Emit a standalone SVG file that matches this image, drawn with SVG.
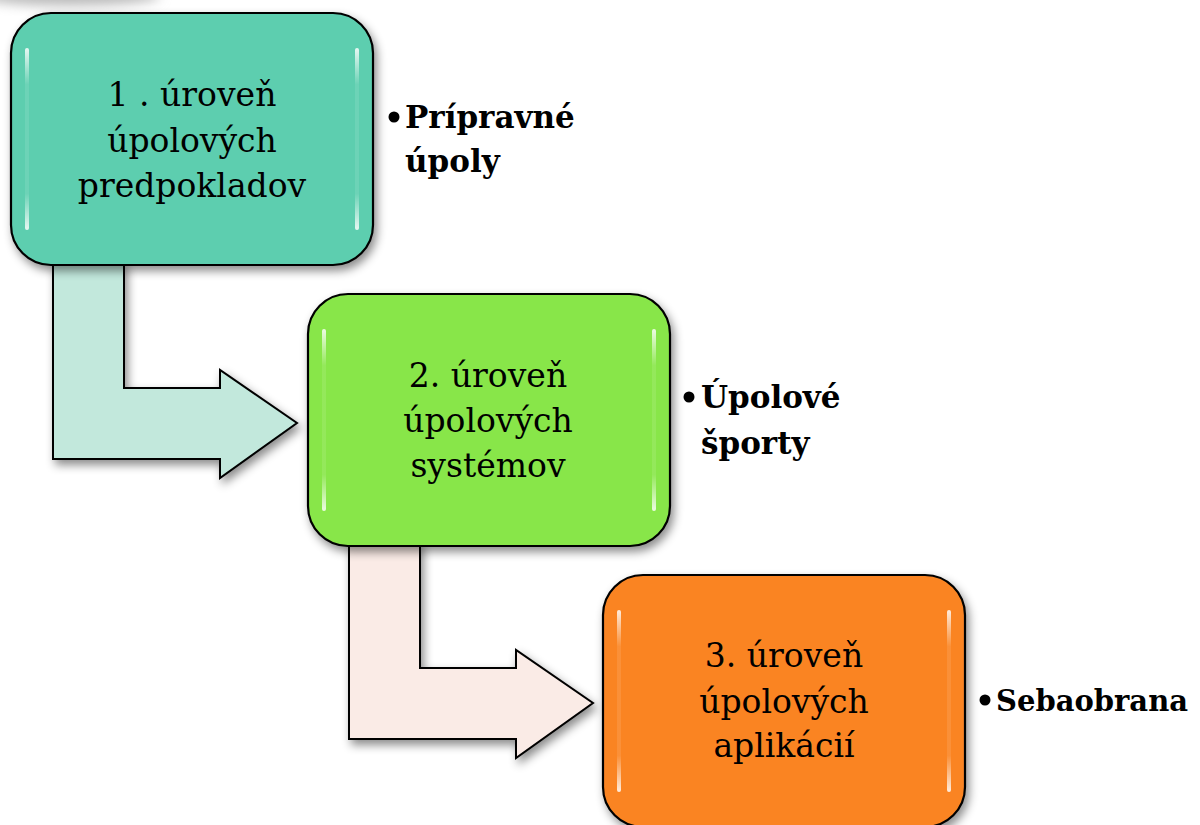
<svg xmlns="http://www.w3.org/2000/svg" width="1200" height="825" viewBox="0 0 1200 825">
<style>
.box{stroke:#000;stroke-width:2.2}
.arrow{stroke:#000;stroke-width:2;stroke-linejoin:miter}
.bt{font-family:"DejaVu Serif","Liberation Serif",serif;font-size:33px;fill:#000;text-anchor:middle}
.lt{font-family:"DejaVu Serif","Liberation Serif",serif;font-size:31px;font-weight:bold;fill:#000}
.hl{fill:url(#hlg)}
</style>
<defs>
<filter id="sh" x="-20%" y="-20%" width="140%" height="140%">
<feDropShadow dx="3" dy="5" stdDeviation="5" flood-color="#000" flood-opacity="0.45"/>
</filter>
<filter id="blur" x="-50%" y="-50%" width="200%" height="200%"><feGaussianBlur stdDeviation="6"/></filter>
<linearGradient id="hlg" x1="0" y1="0" x2="0" y2="1">
<stop offset="0" stop-color="#fff" stop-opacity="0.85"/>
<stop offset="0.2" stop-color="#fff" stop-opacity="0.1"/>
<stop offset="0.8" stop-color="#fff" stop-opacity="0.1"/>
<stop offset="1" stop-color="#fff" stop-opacity="0.85"/>
</linearGradient>
</defs>
<rect width="1200" height="825" fill="#fff"/>
<ellipse cx="70" cy="-4" rx="90" ry="10" fill="#bbb" filter="url(#blur)"/>

<g id="connectors">
<path class="arrow" fill="#C2E8DC" filter="url(#sh)" d="M53,262 L124,262 L124,388 L220,388 L220,370 L297,423 L220,478 L220,459 L53,459 Z"/>
<path class="arrow" fill="#FAEBE6" filter="url(#sh)" d="M349,542 L420,542 L420,668 L516,668 L516,650 L593,703 L516,758 L516,739 L349,739 Z"/>
</g>

<g id="node1">
<rect class="box" x="11" y="13" width="362" height="252" rx="40" fill="#5DCEAF" filter="url(#sh)"/>
<rect class="hl" x="25" y="48" width="4" height="182" rx="2"/>
<rect class="hl" x="355" y="48" width="4" height="182" rx="2"/>
<text class="bt" x="192" y="106">1 . úroveň</text>
<text class="bt" x="192" y="152">úpolových</text>
<text class="bt" x="192" y="197">predpokladov</text>
</g>

<g id="node2">
<rect class="box" x="308" y="294" width="362" height="252" rx="40" fill="#88E64A" filter="url(#sh)"/>
<rect class="hl" x="322" y="329" width="4" height="182" rx="2"/>
<rect class="hl" x="652" y="329" width="4" height="182" rx="2"/>
<text class="bt" x="488" y="387">2. úroveň</text>
<text class="bt" x="488" y="432">úpolových</text>
<text class="bt" x="488" y="477">systémov</text>
</g>

<g id="node3">
<rect class="box" x="603" y="575" width="362" height="252" rx="40" fill="#FA8424" filter="url(#sh)"/>
<rect class="hl" x="617" y="610" width="4" height="182" rx="2"/>
<rect class="hl" x="947" y="610" width="4" height="182" rx="2"/>
<text class="bt" x="784" y="667">3. úroveň</text>
<text class="bt" x="784" y="713">úpolových</text>
<text class="bt" x="784" y="757">aplikácií</text>
</g>

<g id="label1">
<circle cx="394" cy="117" r="5.5" fill="#000"/>
<text class="lt" x="405" y="128">Prípravné</text>
<text class="lt" x="405" y="172">úpoly</text>
</g>
<g id="label2">
<circle cx="689" cy="397" r="5.5" fill="#000"/>
<text class="lt" x="701" y="408">Úpolové</text>
<text class="lt" x="701" y="454">športy</text>
</g>
<g id="label3">
<circle cx="985" cy="700" r="5.5" fill="#000"/>
<text class="lt" x="996" y="711" style="font-size:29px">Sebaobrana</text>
</g>
</svg>
